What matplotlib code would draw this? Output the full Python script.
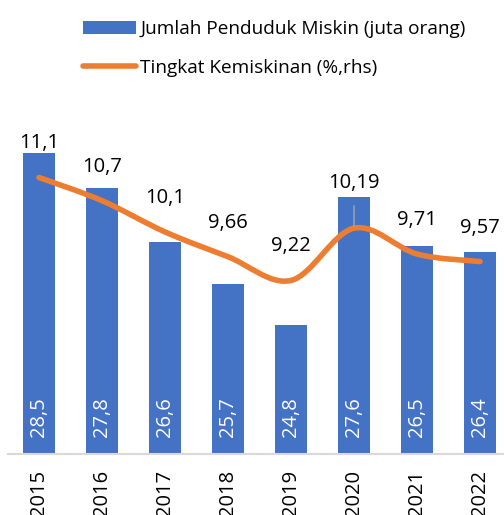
import matplotlib
matplotlib.use("Agg")
import matplotlib.pyplot as plt
from matplotlib.path import Path
from matplotlib.patches import PathPatch, Patch
from matplotlib.lines import Line2D
import numpy as np

years = ["2015", "2016", "2017", "2018", "2019", "2020", "2021", "2022"]
poor_people = [28.51, 27.76, 26.58, 25.67, 24.79, 27.55, 26.50, 26.36]
poverty_rate = [11.13, 10.70, 10.12, 9.66, 9.22, 10.19, 9.71, 9.57]
bar_labels = ["28,5", "27,8", "26,6", "25,7", "24,8", "27,6", "26,5", "26,4"]
rate_labels = ["11,1", "10,7", "10,1", "9,66", "9,22", "10,19", "9,71", "9,57"]

BLUE = "#4472C4"
ORANGE = "#ED7D31"
FONT = "Open Sans"
FS = 14.5
LEG_FS = 13.7

plt.rcParams['font.family'] = [FONT, 'DejaVu Sans']

W, H = 504, 515
fig = plt.figure(figsize=(W / 100, H / 100), dpi=100)

top_px, base_px = 100, 454
left_px, right_px = 7.5, 511.5
ax = fig.add_axes([left_px / W, (H - base_px) / H, (right_px - left_px) / W, (base_px - top_px) / H])

left_min, left_scale = 22.0, 46.24
right_min, right_scale = 6.0, 53.9
ax.set_ylim(left_min, left_min + (base_px - top_px) / left_scale)
x = np.arange(len(years))
ax.set_xlim(-0.5, len(years) - 0.5)

ax.bar(x, poor_people, width=0.508, color=BLUE, zorder=2)
for xi, lab in zip(x, bar_labels):
    ax.text(xi, left_min + 17 / left_scale, lab, rotation=90, ha="center", va="bottom",
            color="white", fontsize=FS, zorder=3)

for s in ["top", "left", "right"]:
    ax.spines[s].set_visible(False)
ax.spines["bottom"].set_color("#D9D9D9")
ax.spines["bottom"].set_linewidth(1.5)
ax.set_yticks([])
ax.set_xticks(x)
ax.set_xticklabels(years, rotation=90, fontsize=FS, color="#000000", va="top")
ax.tick_params(axis="x", length=0, pad=11.5)

ax2 = ax.twinx()
ax2.set_ylim(right_min, right_min + (base_px - top_px) / right_scale)
for s in ax2.spines.values():
    s.set_visible(False)
ax2.set_yticks([])

# smoothed line (Excel-like Catmull-Rom Bezier)
P = np.column_stack([x, poverty_rate]).astype(float)
n = len(P)
verts = [tuple(P[0])]
codes = [Path.MOVETO]
for i in range(n - 1):
    p0 = P[i - 1] if i > 0 else P[i]
    p1 = P[i]
    p2 = P[i + 1]
    p3 = P[i + 2] if i + 2 < n else P[i + 1]
    c1 = p1 + (p2 - p0) / 6.0
    c2 = p2 - (p3 - p1) / 6.0
    verts += [tuple(c1), tuple(c2), tuple(p2)]
    codes += [Path.CURVE4] * 3
patch = PathPatch(Path(verts, codes), facecolor="none", edgecolor=ORANGE, lw=4,
                  capstyle="round", joinstyle="round", zorder=5)
ax2.add_patch(patch)

for i, (xi, yi, lab) in enumerate(zip(x, poverty_rate, rate_labels)):
    if lab == "10,19":
        ax2.annotate(lab, (xi, yi), xytext=(0, 32.4), textcoords="offset points",
                     ha="center", va="center", fontsize=FS, color="#000000",
                     arrowprops=dict(arrowstyle="-", color="#A6A6A6", lw=1,
                                     shrinkA=7, shrinkB=1), zorder=6)
    else:
        ax2.annotate(lab, (xi, yi), xytext=(0, 24.5), textcoords="offset points",
                     ha="center", va="center", fontsize=FS, color="#000000", zorder=6)

handles = [Patch(facecolor=BLUE, edgecolor="none"),
           Line2D([0], [0], color=ORANGE, lw=4, solid_capstyle="round")]
labels = ["Jumlah Penduduk Miskin (juta orang)", "Tingkat Kemiskinan (%,rhs)"]
fig.legend(handles, labels, loc="upper left", bbox_to_anchor=(83 / W, 1 - 20 / H),
           frameon=False, fontsize=LEG_FS, borderpad=0, handlelength=2.8,
           handletextpad=0.2, labelspacing=1.1, borderaxespad=0)

fig.savefig("out.png", dpi=100)
